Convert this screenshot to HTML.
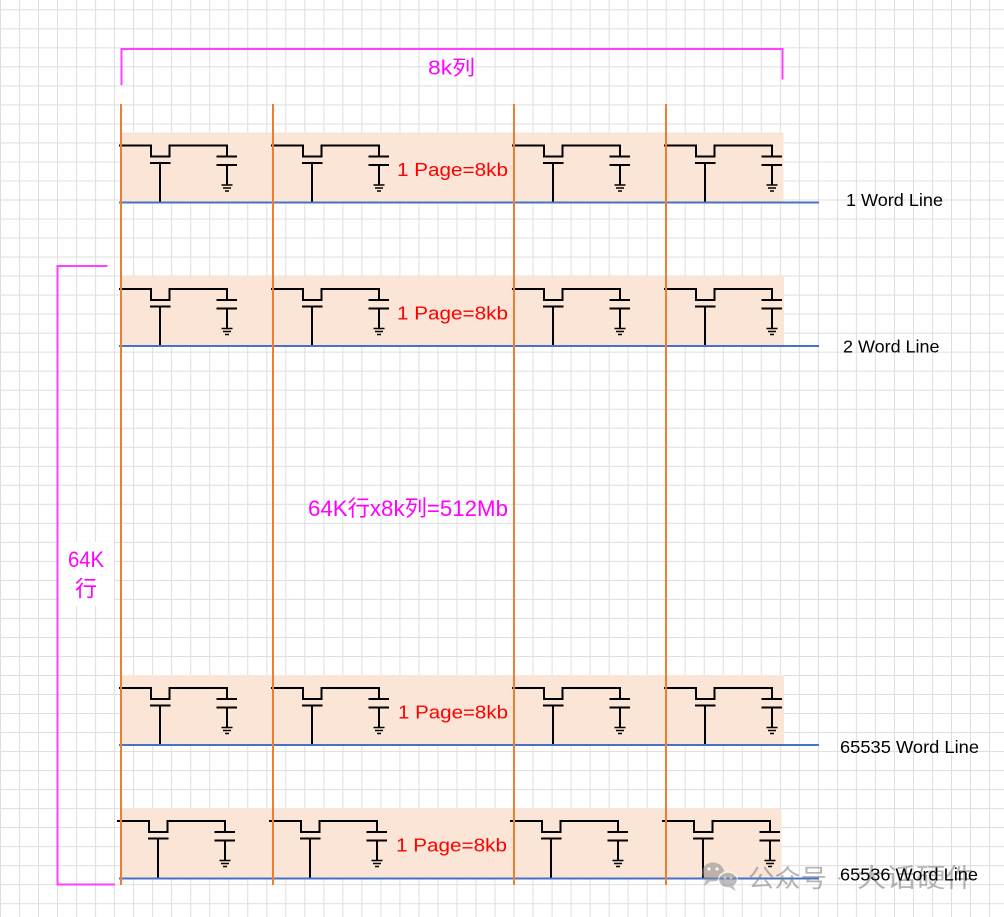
<!DOCTYPE html>
<html>
<head>
<meta charset="utf-8">
<style>
html,body{margin:0;padding:0;background:#fff;width:1004px;height:917px;overflow:hidden}
svg{display:block}
text{font-family:"Liberation Sans","Noto Sans CJK SC",sans-serif}
</style>
</head>
<body>
<svg width="1004" height="917" viewBox="0 0 1004 917" xmlns="http://www.w3.org/2000/svg">
<defs>
  <pattern id="grid" patternUnits="userSpaceOnUse" x="0" y="9.3" width="19.02" height="19.02">
    <rect x="0" y="0" width="1" height="19.02" fill="#dedede"/>
    <rect x="0" y="0" width="19.02" height="1" fill="#dedede"/>
  </pattern>
  <g id="cell" fill="none" stroke="#000" stroke-width="2">
    <path d="M-2,13 H30 V24 H48.5 V13 H106 V24"/>
    <path d="M95.5,24 H116"/>
    <path d="M95.5,32.5 H116"/>
    <path d="M106,32.5 V52"/>
    <path d="M29,30.5 H49.5"/>
    <path d="M39,30.5 V70"/>
    <path d="M100.5,52.5 H111.5 M102,55.5 H110 M104,58.5 H108" stroke-width="1.6"/>
  </g>
</defs>

<rect x="0" y="0" width="1004" height="917" fill="#fff"/>
<rect x="0" y="0" width="1004" height="917" fill="url(#grid)"/>

<!-- row boxes -->
<rect x="121" y="132.5" width="662.5" height="70" fill="#fbe5d6"/>
<rect x="121" y="276" width="663" height="70" fill="#fbe5d6"/>
<rect x="121" y="675" width="663" height="70" fill="#fbe5d6"/>
<rect x="121" y="808.5" width="660.5" height="70" fill="#fbe5d6"/>

<!-- cells row 1 -->
<use href="#cell" x="121" y="132.5"/>
<use href="#cell" x="273" y="132.5"/>
<use href="#cell" x="514" y="132.5"/>
<use href="#cell" x="666" y="132.5"/>
<!-- row 2 -->
<use href="#cell" x="121" y="276"/>
<use href="#cell" x="273" y="276"/>
<use href="#cell" x="514" y="276"/>
<use href="#cell" x="666" y="276"/>
<!-- row 3 -->
<use href="#cell" x="121" y="675"/>
<use href="#cell" x="273" y="675"/>
<use href="#cell" x="514" y="675"/>
<use href="#cell" x="666" y="675"/>
<!-- row 4 -->
<use href="#cell" x="119" y="808"/>
<use href="#cell" x="271" y="808"/>
<use href="#cell" x="512" y="808"/>
<use href="#cell" x="664" y="808"/>

<!-- word lines (blue) -->
<g stroke="#4472c4" stroke-width="2">
  <line x1="119" y1="202.5" x2="819" y2="202.5"/>
  <line x1="119" y1="346" x2="819" y2="346"/>
  <line x1="119" y1="745" x2="819" y2="745"/>
  <line x1="119" y1="878.5" x2="819" y2="878.5"/>
</g>

<!-- bit lines (orange) -->
<g stroke="#ed7d31" stroke-width="2">
  <line x1="121" y1="104" x2="121" y2="885"/>
  <line x1="273" y1="104" x2="273" y2="885"/>
  <line x1="514" y1="104" x2="514" y2="885"/>
  <line x1="666" y1="104" x2="666" y2="885"/>
</g>

<!-- magenta brackets -->
<g fill="none" stroke="#ff40ff" stroke-width="2">
  <path d="M121.5,85 V49 H782.5 V79.5"/>
  <path d="M107.5,266 H57.5 V884.5 H115"/>
</g>

<!-- left label background -->
<rect x="59" y="542" width="55" height="64" fill="#fff"/>

<!-- magenta texts -->
<g fill="#ff00ff">
  <text x="428" y="74.5" font-size="20" textLength="47" lengthAdjust="spacingAndGlyphs">8k列</text>
  <text x="308" y="516" font-size="22" textLength="200" lengthAdjust="spacingAndGlyphs">64K行x8k列=512Mb</text>
  <text x="68" y="567" font-size="22" textLength="36" lengthAdjust="spacingAndGlyphs">64K</text>
  <text x="75" y="596.5" font-size="22">行</text>
</g>

<!-- red page texts -->
<g fill="#ff0000" font-size="18.5">
  <text x="397" y="176" textLength="111" lengthAdjust="spacingAndGlyphs">1 Page=8kb</text>
  <text x="397" y="319.5" textLength="111" lengthAdjust="spacingAndGlyphs">1 Page=8kb</text>
  <text x="398" y="718.5" textLength="110" lengthAdjust="spacingAndGlyphs">1 Page=8kb</text>
  <text x="396" y="851.5" textLength="111" lengthAdjust="spacingAndGlyphs">1 Page=8kb</text>
</g>

<!-- watermark -->
<g opacity="0.55">
  <ellipse cx="713" cy="872" rx="11" ry="9.5" fill="#8a8a8a"/>
  <path d="M706,879 L704,886 L711,881 Z" fill="#8a8a8a"/>
  <ellipse cx="728" cy="880" rx="9.5" ry="8" fill="#8a8a8a" stroke="#fff" stroke-width="1.5"/>
  <path d="M733,886 L736,891 L729,887 Z" fill="#8a8a8a"/>
  <circle cx="709" cy="869" r="1.6" fill="#fff"/>
  <circle cx="717" cy="869" r="1.6" fill="#fff"/>
  <circle cx="725" cy="878" r="1.3" fill="#fff"/>
  <circle cx="731" cy="878" r="1.3" fill="#fff"/>
  <text x="748" y="887" font-size="25" fill="#7a7a7a" textLength="79" lengthAdjust="spacingAndGlyphs">公众号</text>
  <text x="836" y="884" font-size="20" fill="#7a7a7a">·</text>
  <text x="857" y="887" font-size="26" fill="#7a7a7a" textLength="118" lengthAdjust="spacingAndGlyphs">大话硬件</text>
</g>

<!-- word line labels -->
<g fill="#000" font-size="17.5">
  <text x="846" y="206" textLength="97" lengthAdjust="spacingAndGlyphs">1 Word Line</text>
  <text x="843" y="352.5" textLength="96.5" lengthAdjust="spacingAndGlyphs">2 Word Line</text>
  <text x="840" y="753" textLength="139" lengthAdjust="spacingAndGlyphs">65535 Word Line</text>
  <text x="840" y="880.5" textLength="138" lengthAdjust="spacingAndGlyphs">65536 Word Line</text>
</g>
</svg>
</body>
</html>
